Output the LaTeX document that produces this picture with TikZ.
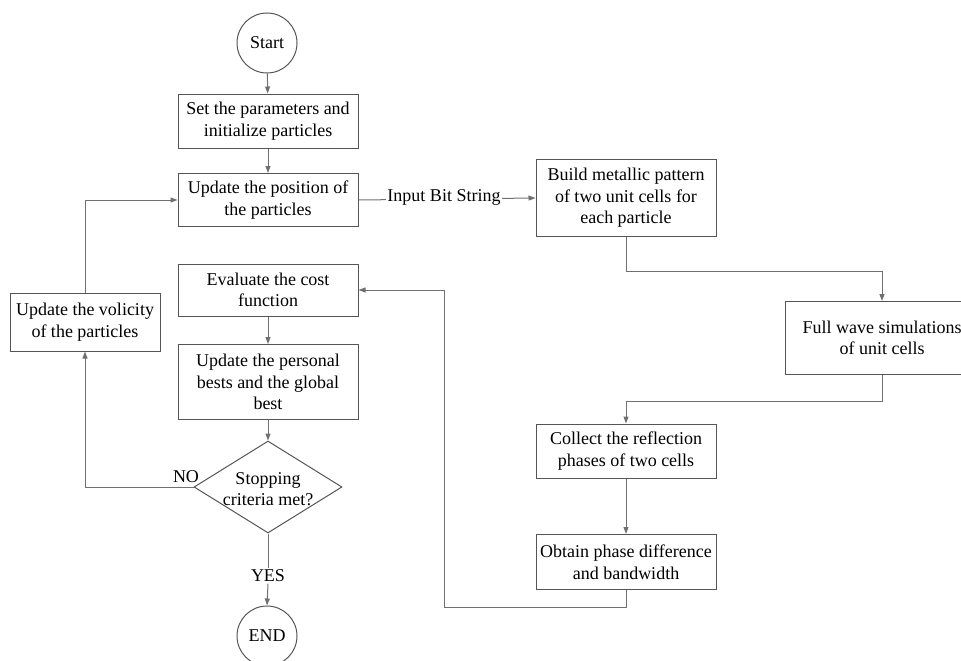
\documentclass[tikz,border=0pt]{standalone}
\usepackage{fontspec}
\setmainfont{Liberation Serif}
\usetikzlibrary{arrows.meta,shapes.geometric,calc}
\definecolor{linec}{HTML}{707070}
\definecolor{boxc}{HTML}{555555}
\tikzset{
  box/.style={draw=boxc, line width=1pt, rectangle, align=center, inner sep=2pt},
  term/.style={draw=boxc, line width=1pt, circle, minimum size=60pt, inner sep=0pt},
  dia/.style={draw=boxc, line width=1pt, diamond, minimum width=148pt, minimum height=92pt, inner sep=0pt},
  arr/.style={draw=linec, line width=1pt, -{Triangle[length=7pt,width=5pt]}},
  con/.style={draw=linec, line width=1pt},
  lbl/.style={fill=white, inner sep=1.5pt}
}
\begin{document}
\begin{tikzpicture}[x=1pt,y=-1pt,font=\fontsize{18}{21.5}\selectfont]
\useasboundingbox (0,0) rectangle (961,661);
\clip (0,0) rectangle (961,661);
\node[term] (start) at (267,43) {Start};
\node[box, minimum width=180pt, minimum height=54pt] (set) at (268,121) {Set the parameters and\\initialize particles};
\node[box, minimum width=180pt, minimum height=53pt] (pos) at (268,200) {Update the position of\\the particles};
\node[box, minimum width=180pt, minimum height=52pt] (eval) at (268,290) {Evaluate the cost\\function};
\node[box, minimum width=180pt, minimum height=75pt] (pbest) at (268,382) {Update the personal\\bests and the global\\best};
\node[dia] (stop) at (268,487) {};
\node[align=center] (stoptxt) at (268,489) {Stopping\\criteria met?};
\node[lbl] (yes) at (268,576) {YES};
\node[term] (end) at (267,636) {END};
\node[box, minimum width=150pt, minimum height=58pt] (vel) at (85,322) {Update the volicity\\of the particles};
\node (no) at (186,477) {NO};
\node[box, minimum width=180pt, minimum height=77pt] (build) at (626,198) {Build metallic pattern\\of two unit cells for\\each particle};
\node[box, minimum width=194pt, minimum height=73pt] (full) at (882,338) {Full wave simulations\\of unit cells};
\node[box, minimum width=180pt, minimum height=54pt] (coll) at (626,451) {Collect the reflection\\phases of two cells};
\node[box, minimum width=180pt, minimum height=55pt] (obt) at (626,562) {Obtain phase difference\\and bandwidth};
\coordinate (ret1) at (444,607);
\coordinate (ret2) at (444,290);

\draw[arr] (start) -- (set);
\draw[arr] (set) -- (pos);
\draw[arr] (pos.east) -- (build.west);
\node[lbl, anchor=base] (ibs) at (444,201) {Input Bit String};
\draw[arr] (eval) -- (pbest);
\draw[arr] (pbest) -- (stop.north);
\draw[con] (stop.south) -- (yes.north);
\draw[arr] (yes.south) -- (end.north);
\draw[arr] (stop.west) -| (vel.south);
\draw[arr] (vel.north) |- (pos.west);
\draw[arr] (build.south) -- ++(0,34) -| (full.north);
\draw[arr] (full.south) -- ++(0,26) -| (coll.north);
\draw[arr] (coll) -- (obt);
\draw[arr] (obt.south) |- (ret1) -- (ret2) -- (eval.east);
\end{tikzpicture}
\end{document}
